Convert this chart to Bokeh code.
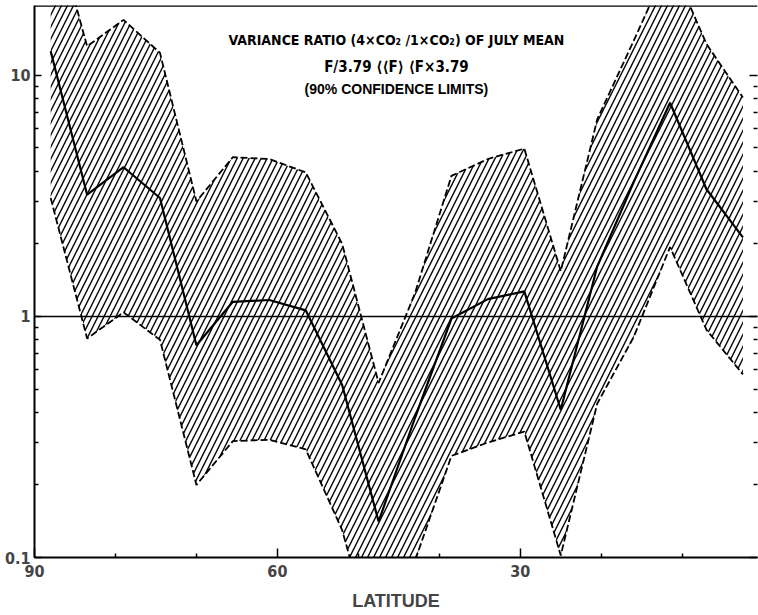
from bokeh.plotting import figure
from bokeh.models import Range1d, LogAxis, FixedTicker, Span, Label, CustomJSTickFormatter
from bokeh.embed import file_html
from bokeh.resources import INLINE

# Latitude of model rows (deg N)
lat = [88.0, 83.5, 79.0, 74.5, 70.0, 65.5, 61.0, 56.5, 52.0, 47.5,
       43.0, 38.5, 34.0, 29.5, 25.0, 20.5, 16.0, 11.5, 7.0, 2.5]
# Variance ratio F (4xCO2 / 1xCO2), July mean
ratio = [12.6, 3.20, 4.16, 3.10, 0.76, 1.15, 1.17, 1.06, 0.52, 0.141,
         0.38, 0.98, 1.18, 1.27, 0.41, 1.61, 3.6, 7.7, 3.37, 2.13]
# 90% confidence limits
upper = [47.0, 13.2, 17.0, 12.4, 3.0, 4.58, 4.5, 3.96, 2.0, 0.53,
         1.25, 3.83, 4.5, 4.97, 1.54, 6.57, 13.9, 30.0, 13.5, 8.1]
lower = [3.1, 0.81, 1.04, 0.80, 0.20, 0.304, 0.308, 0.281, 0.13, 0.037,
         0.097, 0.264, 0.30, 0.333, 0.102, 0.435, 0.82, 1.94, 0.88, 0.575]

x_major = [90, 60, 30, 0]
x_minor = [80, 70, 50, 40, 20, 10]
y_major = [0.1, 1, 10]
y_minor = [0.2, 0.3, 0.4, 0.5, 0.6, 0.7, 0.8, 0.9, 2, 3, 4, 5, 6, 7, 8, 9]

NARROW = "DejaVu Sans Condensed, Roboto, sans-serif"
Y_TOP = 19.5

p = figure(width=758, height=615, x_range=Range1d(90, 0.7), y_range=Range1d(0.1, Y_TOP),
           y_axis_type="log", output_backend="svg", toolbar_location=None,
           min_border_left=34, min_border_right=1, min_border_top=5, min_border_bottom=58)
p.grid.visible = False
p.outline_line_color = None
p.background_fill_color = "white"
p.border_fill_color = "white"

# hatched confidence band
p.varea(x=lat, y1=lower, y2=upper, fill_color=None, fill_alpha=0,
        hatch_pattern="/", hatch_color="black", hatch_scale=12, hatch_weight=1.4)
p.line(lat, upper, line_color="black", line_width=1.8, line_dash="7 3")
p.line(lat, lower, line_color="black", line_width=1.8, line_dash="7 3")
p.line(lat, ratio, line_color="black", line_width=2.2)

p.add_layout(Span(location=1, dimension="width", line_color="black", line_width=1.5))
p.add_layout(Span(location=Y_TOP, dimension="width", line_color="black", line_width=2.5))

# axes
xa = p.xaxis[0]
xa.ticker = FixedTicker(ticks=x_major, minor_ticks=x_minor)
xa.axis_line_width = 2
xa.major_tick_in = 9
xa.major_tick_out = 0
xa.minor_tick_in = 4
xa.minor_tick_out = 0
xa.major_tick_line_width = 1.5
xa.minor_tick_line_width = 1.5
xa.major_label_text_font = NARROW
xa.major_label_text_font_style = "bold"
xa.major_label_text_font_size = "16px"
xa.major_label_standoff = 7
xa.axis_label = "LATITUDE"
xa.axis_label_text_font = "Liberation Sans"
xa.axis_label_text_font_style = "bold"
xa.axis_label_text_font_size = "18px"
xa.axis_label_standoff = 11

fmt = CustomJSTickFormatter(code="return tick < 1 ? tick.toFixed(1) : tick.toFixed(0);")
ya = p.yaxis[0]
ya.ticker = FixedTicker(ticks=y_major, minor_ticks=y_minor)
ya.formatter = fmt
ya.axis_line_width = 2
ya.major_tick_in = 7
ya.major_tick_out = 0
ya.minor_tick_in = 4
ya.minor_tick_out = 0
ya.major_tick_line_width = 1.5
ya.minor_tick_line_width = 1.5
ya.major_label_text_font = NARROW
ya.major_label_text_font_style = "bold"
ya.major_label_text_font_size = "16px"
ya.major_label_standoff = 4

ra = LogAxis(ticker=FixedTicker(ticks=y_major, minor_ticks=y_minor),
             formatter=CustomJSTickFormatter(code="return '';"))
ra.axis_line_color = None
ra.major_tick_in = 8
ra.major_tick_out = 0
ra.minor_tick_in = 4
ra.minor_tick_out = 0
ra.major_tick_line_width = 1.5
ra.minor_tick_line_width = 1.5
ra.major_label_standoff = 0
ra.major_label_text_font_size = "1px"
p.add_layout(ra, "right")

# title block
p.add_layout(Label(x=45.3, y=13.97, text="VARIANCE RATIO (4×CO₂ /1×CO₂) OF JULY MEAN",
                   text_align="center", text_baseline="middle", text_font=NARROW,
                   text_font_style="bold", text_font_size="14px", text_color="black"))
p.add_layout(Label(x=45.3, y=10.8, text="F/3.79 ⟨⟨F⟩ ⟨F×3.79",
                   text_align="center", text_baseline="middle", text_font=NARROW,
                   text_font_style="bold", text_font_size="15px", text_color="black"))
p.add_layout(Label(x=45.3, y=8.75, text="(90% CONFIDENCE LIMITS)",
                   text_align="center", text_baseline="middle", text_font="Liberation Sans",
                   text_font_style="bold", text_font_size="14px", text_color="black"))

open("out.html", "w").write(file_html(p, INLINE))
